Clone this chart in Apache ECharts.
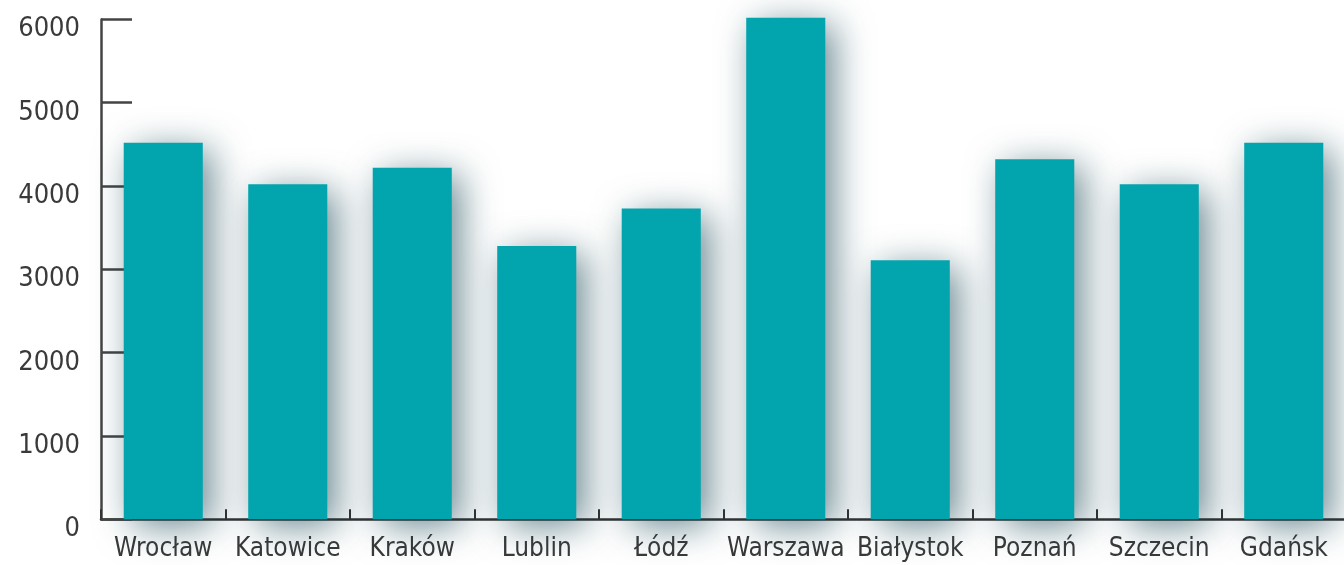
<!DOCTYPE html>
<html>
<head>
<meta charset="utf-8">
<script src="https://cdn.jsdelivr.net/npm/echarts@6/dist/echarts.min.js"></script>
<style>html,body{margin:0;padding:0;background:#fff;}#c{width:1344px;height:565px;}</style>
</head>
<body>
<div id="c"></div>
<script>
const categories = ['Wrocław','Katowice','Kraków','Lublin','Łódź','Warszawa','Białystok','Poznań','Szczecin','Gdańsk'];
const values = [4520, 4020, 4220, 3280, 3730, 6020, 3110, 4320, 4020, 4520];
const yTicks = [0, 1000, 2000, 3000, 4000, 5000, 6000];

const chart = echarts.init(document.getElementById('c'));
const font = '"DejaVu Sans Condensed", "DejaVu Sans", sans-serif';
chart.setOption({
  animation: false,
  backgroundColor: '#ffffff',
  grid: { left: 101, width: 1245, top: 19.4, bottom: 45.7, containLabel: false, outerBoundsMode: 'none' },
  xAxis: {
    type: 'category',
    data: categories,
    axisLine: { lineStyle: { color: '#333', width: 2.5 } },
    axisTick: { show: true, inside: true, length: 10, interval: 0, lineStyle: { color: '#333', width: 2 } },
    axisLabel: { color: '#3a3a3a', fontFamily: font, fontSize: 26, margin: 17, interval: 0 }
  },
  yAxis: {
    type: 'value',
    min: yTicks[0], max: yTicks[yTicks.length - 1], interval: 1000,
    splitLine: { show: false },
    axisLine: { show: true, lineStyle: { color: '#444', width: 2.5 } },
    axisTick: { show: true, inside: true, length: 31, lineStyle: { color: '#444', width: 2.5 } },
    axisLabel: { color: '#3a3a3a', fontFamily: font, fontSize: 27, margin: 21, verticalAlign: 'top', lineHeight: 20,
      formatter: v => String(v) }
  },
  series: [{
    type: 'bar',
    data: values,
    barWidth: '63.5%',
    clip: false,
    itemStyle: {
      color: '#02A4AD',
      shadowColor: 'rgba(10, 60, 75, 0.6)',
      shadowBlur: 36,
      shadowOffsetX: 9,
      shadowOffsetY: 7
    }
  }]
});
</script>
</body>
</html>
